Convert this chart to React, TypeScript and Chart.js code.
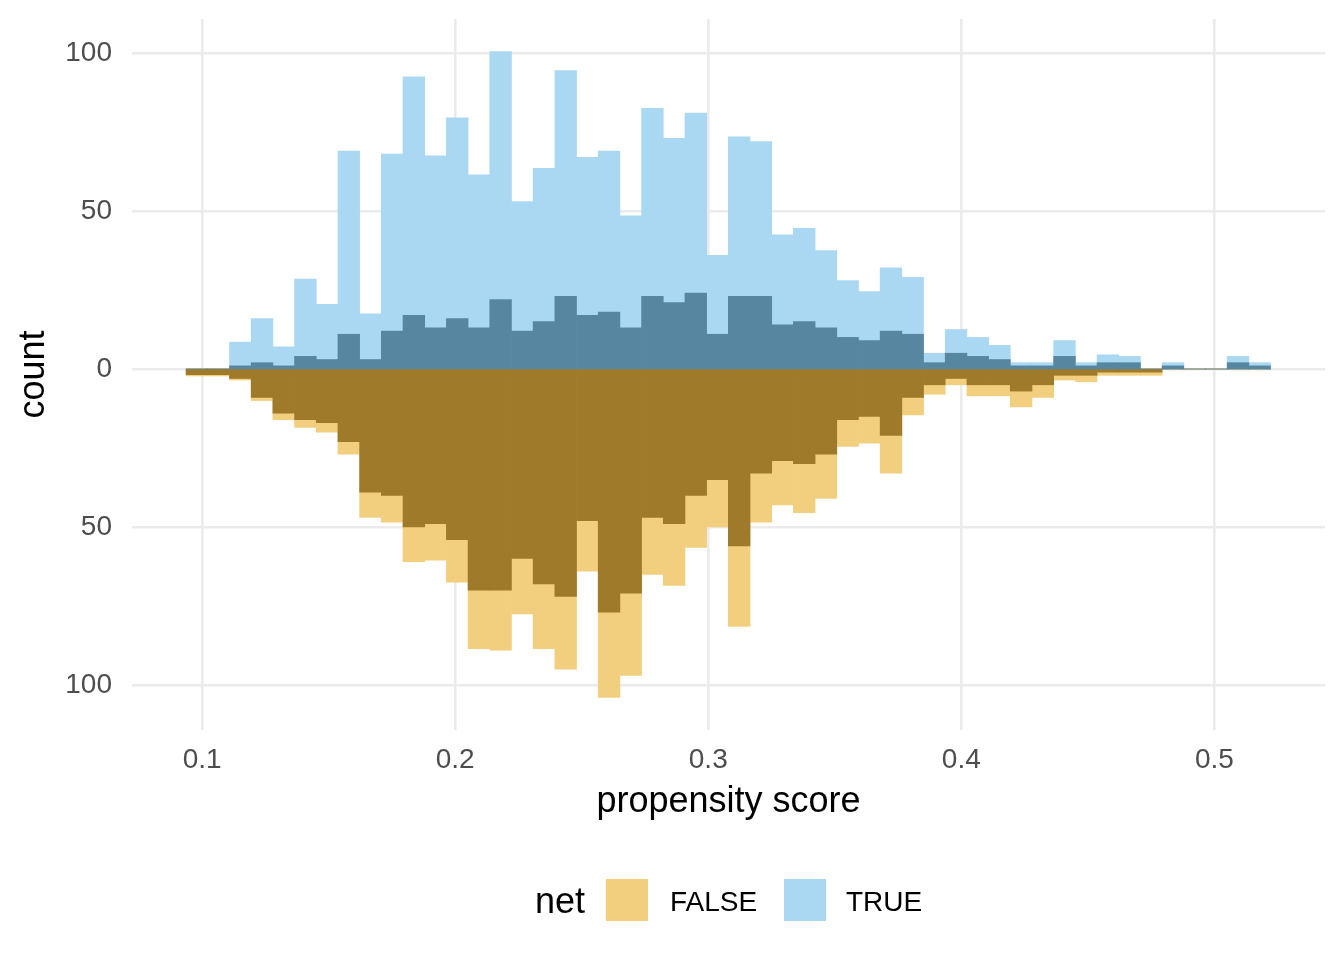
import React, { useEffect, useRef } from "react";
import { Chart, registerables } from "chart.js";

Chart.register(...registerables);

// Histogram bins (centres of 50 bins of propensity score)
const binCenters = [
  0.09797, 0.10654, 0.11511, 0.12368, 0.13225, 0.14082, 0.14939, 0.15796, 0.16653, 0.1751,
  0.18367, 0.19224, 0.20081, 0.20938, 0.21795, 0.22652, 0.23509, 0.24366, 0.25223, 0.2608,
  0.26937, 0.27794, 0.28651, 0.29508, 0.30365, 0.31222, 0.32079, 0.32936, 0.33793, 0.3465,
  0.35507, 0.36364, 0.37221, 0.38078, 0.38935, 0.39792, 0.40649, 0.41506, 0.42363, 0.4322,
  0.44077, 0.44934, 0.45791, 0.46648, 0.47505, 0.48362, 0.49219, 0.50076, 0.50933, 0.5179,
];

// net = TRUE (plotted upward)
const trueCounts = [
  0, 0, 8.5, 16, 7, 28.5, 20.5, 69, 17.5, 68,
  92.5, 67.5, 79.5, 61.5, 100.5, 53, 63.5, 94.5, 67, 69,
  48.5, 82.5, 73, 81, 36, 73.5, 72, 42.5, 44.5, 37.5,
  28, 24.5, 32, 29, 5, 12.5, 10, 7.5, 2, 2,
  9, 2, 4.5, 4, 0, 2, 0, 0, 4, 2,
];
const trueWeighted = [
  0, 0, 1, 2, 1, 4, 3, 11, 3, 12,
  17, 13, 16, 13, 22, 12, 15, 23, 17, 18,
  13, 23, 21, 24, 11, 23, 23, 14, 15, 13,
  10, 9, 12, 11, 2, 5, 4, 3, 1, 1,
  4, 1, 2, 2, 0, 1, 0, 0, 2, 1,
];

// net = FALSE (plotted downward, magnitudes)
const falseCounts = [
  2.2, 2.2, 3.5, 10, 16, 18.5, 20, 27, 47, 48.5,
  61, 60.5, 67.5, 88.5, 89, 77.5, 88.5, 95, 64, 104,
  97, 65, 68.5, 56.5, 50, 81.5, 48.5, 43, 45.5, 41,
  24.5, 23.5, 33, 14.5, 8, 5, 8.5, 8.5, 12, 9,
  3.5, 4, 2, 2, 2, 0, 0, 0, 0, 0,
];
const falseWeighted = [
  1.8, 1.8, 3, 9, 14, 16, 17, 23, 39, 40,
  50, 49, 54, 70, 70, 60, 68, 72, 48, 77,
  71, 47, 49, 40, 35, 56, 33, 29, 30, 27,
  16, 15, 21, 9, 5, 3, 5, 5, 7, 5,
  2, 2, 1, 1, 1, 0, 0, 0, 0, 0,
];

const xTicks = [0.1, 0.2, 0.3, 0.4, 0.5];
const yTicks = [-100, -50, 0, 50, 100];
const legendTitle = "net";
const legendLabels = ["FALSE", "TRUE"];

const LIGHT_YELLOW = "#F2CF7F";
const LIGHT_BLUE = "#AAD8F2";
const DARK_BROWN = "#9F7A2B";
const DARK_BLUE = "#5787A0";
const GRID = "#EBEBEB";
const FONT = "'Liberation Sans', Arial, Helvetica, sans-serif";
const Y_MIN = -114.28;
const Y_MAX = 110.8;

export default function App() {
  const ref = useRef<HTMLCanvasElement | null>(null);

  useEffect(() => {
    if (!ref.current) return;
    const pts = (vals: number[], sign: number) =>
      vals.map((v, i) => ({ x: binCenters[i], y: sign * v }));

    const chart = new Chart(ref.current, {
      type: "bar",
      data: {
        datasets: [
          { label: "TRUE weighted", data: pts(trueWeighted, 1), backgroundColor: DARK_BLUE, order: 1 },
          { label: "FALSE weighted", data: pts(falseWeighted, -1), backgroundColor: DARK_BROWN, order: 1 },
          { label: "TRUE", data: pts(trueCounts, 1), backgroundColor: LIGHT_BLUE, order: 2 },
          { label: "FALSE", data: pts(falseCounts, -1), backgroundColor: LIGHT_YELLOW, order: 2 },
        ] as any,
      },
      options: {
        animation: false,
        responsive: true,
        maintainAspectRatio: false,
        datasets: {
          bar: { grouped: false, barPercentage: 1, categoryPercentage: 1, borderWidth: 0 },
        } as any,
        layout: { padding: { top: 19, right: 19, bottom: 130, left: 0 } },
        plugins: { legend: { display: false }, tooltip: { enabled: false } },
        scales: {
          x: {
            type: "linear",
            min: 0.0723,
            max: 0.5437,
            offset: false,
            afterFit: (s: any) => {
              s.height = 100;
              s.paddingLeft = 0;
              s.paddingRight = 0;
            },
            afterBuildTicks: (s: any) => {
              s.ticks = xTicks.map((v) => ({ value: v }));
            },
            ticks: {
              padding: 13,
              color: "#4D4D4D",
              font: { family: FONT, size: 28 },
              callback: (v: any) => Number(v).toFixed(1),
              maxRotation: 0,
              autoSkip: false,
            },
            grid: { color: GRID, lineWidth: 2.6, drawTicks: false, tickLength: 0, offset: false },
            border: { display: false },
            title: {
              display: true,
              text: "propensity score",
              color: "#000000",
              font: { family: FONT, size: 36 },
              padding: { top: 0, bottom: 6 },
            },
          },
          y: {
            type: "linear",
            min: Y_MIN,
            max: Y_MAX,
            afterFit: (s: any) => {
              s.width = 132;
              s.paddingTop = 0;
              s.paddingBottom = 0;
            },
            afterBuildTicks: (s: any) => {
              s.ticks = yTicks.map((v) => ({ value: v }));
            },
            ticks: {
              padding: 20,
              color: "#4D4D4D",
              font: { family: FONT, size: 28 },
              callback: (v: any) => String(Math.abs(Number(v))),
            },
            grid: {
              color: GRID,
              // the zero line is drawn by yZero so bars meet exactly at 0
              lineWidth: (c: any) => (c.tick && c.tick.value === 0 ? 0 : 2.6),
              drawTicks: false,
              tickLength: 0,
            },
            border: { display: false },
            title: {
              display: true,
              text: "count",
              color: "#000000",
              font: { family: FONT, size: 36 },
              padding: { top: 12, bottom: 0 },
            },
          },
          yZero: {
            type: "linear",
            position: "left",
            min: Y_MIN,
            max: Y_MAX,
            afterFit: (s: any) => {
              s.width = 0;
              s.paddingTop = 0;
              s.paddingBottom = 0;
            },
            afterBuildTicks: (s: any) => {
              s.ticks = [{ value: 0 }];
            },
            ticks: { display: false },
            grid: { color: GRID, lineWidth: 2.6, drawTicks: false, tickLength: 0 },
            border: { display: false },
            title: { display: false },
          },
        },
      } as any,
    });
    return () => chart.destroy();
  }, []);

  const textStyle = (size: number, left: number, top: number): React.CSSProperties => ({
    position: "absolute",
    left,
    top,
    fontFamily: FONT,
    fontSize: size,
    lineHeight: `${size}px`,
    color: "#000",
    whiteSpace: "nowrap",
  });
  const boxStyle = (color: string, left: number): React.CSSProperties => ({
    position: "absolute",
    left,
    top: 879,
    width: 42,
    height: 42,
    background: color,
  });

  return (
    <div
      style={{
        position: "absolute",
        left: 0,
        top: 0,
        width: 1344,
        height: 960,
        background: "#FFFFFF",
        overflow: "hidden",
      }}
    >
      <div style={{ position: "absolute", left: 0, top: 0, width: 1344, height: 960 }}>
        <canvas ref={ref} />
      </div>
      <div style={textStyle(36, 535, 883)}>{legendTitle}</div>
      <div style={boxStyle(LIGHT_YELLOW, 606)} />
      <div style={textStyle(28, 670, 888)}>{legendLabels[0]}</div>
      <div style={boxStyle(LIGHT_BLUE, 784)} />
      <div style={textStyle(28, 846, 888)}>{legendLabels[1]}</div>
    </div>
  );
}
